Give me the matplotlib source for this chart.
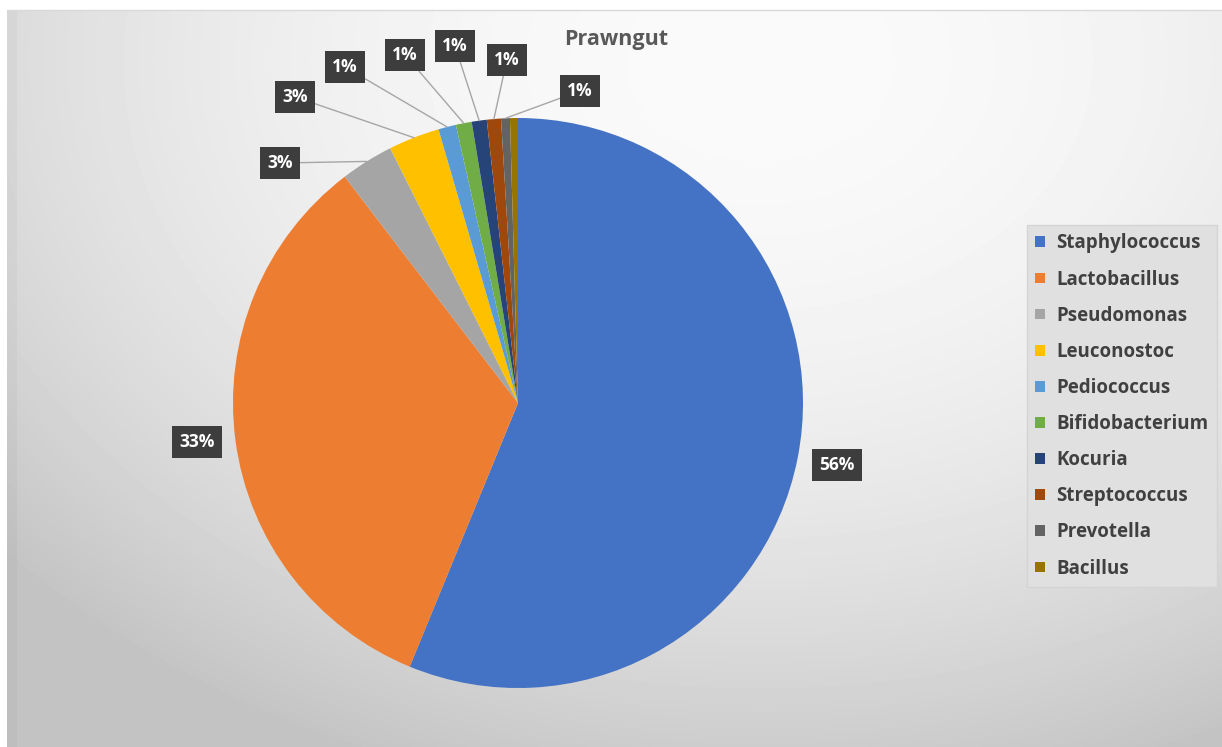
import numpy as np
import matplotlib.pyplot as plt
from matplotlib.patches import Patch

plt.rcParams['font.family'] = ['Open Sans', 'DejaVu Sans']

genus = ['Staphylococcus', 'Lactobacillus', 'Pseudomonas', 'Leuconostoc',
         'Pediococcus', 'Bifidobacterium', 'Kocuria', 'Streptococcus',
         'Prevotella', 'Bacillus']
share = [56.2, 33.4, 3.0, 2.9, 1.0, 0.9, 0.85, 0.8, 0.5, 0.45]
colors = ['#4472C4', '#ED7D31', '#A5A5A5', '#FFC000', '#5B9BD5',
          '#70AD47', '#264478', '#9E480E', '#636363', '#997300']

# label box centres in pie radius units, None = label hidden
label_pos = [(1.119, -0.218), (-1.126, -0.137), (-0.835, 0.842),
             (-0.782, 1.074), (-0.607, 1.179), (-0.396, 1.221),
             (-0.221, 1.253), (-0.039, 1.204), (0.218, 1.095), None]

W, H = 1222, 747
fig = plt.figure(figsize=(W / 100, H / 100), dpi=100)
fig.patch.set_facecolor('white')

# chart area background: soft radial grey gradient
left, top = 7, 10
bg = fig.add_axes([left / W, 0, 1 - left / W, (H - top) / H])
xs = np.arange(left, W)
ys = np.arange(top, H)
X, Y = np.meshgrid(xs, ys)
d = np.sqrt(((X - 760) / 1000.0) ** 2 + ((Y - 60) / 750.0) ** 2)
g = 250 - 54 * np.clip(d, 0, 1) ** 2
g[:, :10] -= 6
bg.imshow(g / 255.0, cmap='gray', vmin=0, vmax=1, aspect='auto',
          interpolation='bilinear')
bg.axis('off')
fig.add_artist(plt.Line2D([left / W, 1], [1 - top / H, 1 - top / H],
                          color='#d9d9d9', lw=1))

cx, cy, r = 518, 403, 285
ax = fig.add_axes([(cx - r) / W, (H - cy - r) / H, 2 * r / W, 2 * r / H])
wedges, _ = ax.pie(share, colors=colors, startangle=90, counterclock=False,
                   radius=1, wedgeprops=dict(linewidth=0))
ax.set_xlim(-1, 1)
ax.set_ylim(-1, 1)
ax.axis('off')

total = sum(share)
box = dict(boxstyle='square,pad=0.42', facecolor='#3d3d3d', edgecolor='none')
for i, w in enumerate(wedges):
    pos = label_pos[i]
    if pos is None:
        continue
    txt = f'{int(share[i] / total * 100 + 0.5)}%'
    mid = np.deg2rad((w.theta1 + w.theta2) / 2)
    edge = (np.cos(mid), np.sin(mid))
    if i < 2:
        ax.text(pos[0], pos[1], txt, ha='center', va='center', fontsize=12.5,
                fontweight='bold', color='white', bbox=box)
    else:
        ax.annotate(txt, xy=edge, xytext=pos, ha='center', va='center',
                    fontsize=12.5, fontweight='bold', color='white', bbox=box,
                    annotation_clip=False,
                    arrowprops=dict(arrowstyle='-', color='#a6a6a6', lw=1,
                                    shrinkA=0, shrinkB=0))

fig.text(616 / W, 1 - 40 / H, 'Prawngut', ha='center', va='center',
         fontsize=15.5, fontweight='bold', color='#595959')

handles = [Patch(facecolor=c, edgecolor='none') for c in colors]
leg = fig.legend(handles, genus, loc='center left',
                 bbox_to_anchor=(1027 / W, (H - 406) / H), frameon=True,
                 fancybox=False, facecolor='#e0e0e0', edgecolor='#d4d4d4',
                 framealpha=1, fontsize=13.5, handlelength=0.5,
                 handleheight=0.5, handletextpad=0.6, labelspacing=0.86,
                 borderpad=0.45, borderaxespad=0)
for t in leg.get_texts():
    t.set_color('#404040')
    t.set_fontweight('bold')

fig.savefig('out.png', dpi=100)
